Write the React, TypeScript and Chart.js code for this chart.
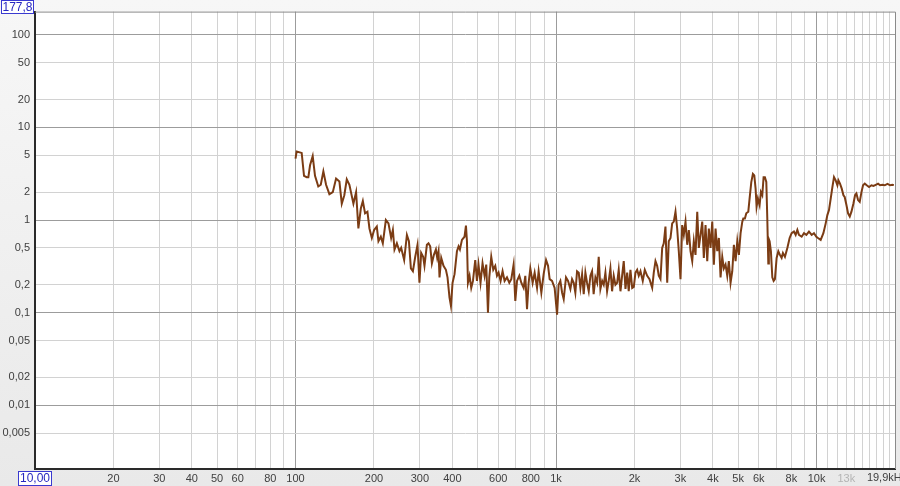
import React, { useEffect, useRef } from "react";
import { Chart, registerables } from "chart.js";

Chart.register(...registerables);

// ---- Data (frequency in Hz, distortion level) ----
const lowFreqHz = [
  100, 101, 105.6, 107.8, 110.4, 112, 113.7, 116.4, 118.8, 122.3,
  125, 127.9, 131, 134.9, 139, 143.1, 147.4, 150.5, 153.9, 157.3,
  161, 166.8, 170.8, 174.3, 178.1, 181.3, 184.9, 188.8, 192.2, 196.3,
  200.3, 205.1, 208.1, 212.5, 216.3, 222.2, 227.4, 232.8, 236.4, 239.8,
  244.9, 250.6, 254.4, 261.2, 267.6, 272.4, 277.2, 282.2, 288, 293.9,
  299, 303.6, 309, 312.6, 319.3, 323.9, 328.8, 333.8, 339.7, 345.8,
  349.8, 353.9, 357, 362.5, 369.8, 377.8, 383.2, 390, 395, 400.6,
  407.7, 416.5, 422.5, 427.6, 435.3, 445.4, 451, 455, 459, 465.6,
  472.6, 479.8, 489.6, 497, 504, 513, 522.2, 531.6, 539.6, 547.9,
  554.2, 564, 574.1, 584.4, 593.2, 601.8, 612.5, 623.4, 634.6, 648.2,
  661.5, 673.3, 687.2, 697.6, 708.2, 722.8, 735.6, 750.8, 762.1, 773.7,
  784.8, 796.6, 813.1, 827.6, 845.3, 857.3, 878.1, 896.1, 915.5, 931.8,
  945, 965.2, 987.6,
];
const lowLevel = [
  4.6, 5.5, 5.3, 3.0, 2.9, 2.9, 3.9, 4.9, 3.0, 2.3,
  2.4, 3.35, 2.4, 1.9, 2.0, 2.8, 2.6, 1.5, 1.85, 2.75,
  2.4, 1.5, 2.0, 0.81, 1.33, 1.6, 1.18, 1.23, 0.81, 0.64,
  0.78, 0.85, 0.59, 0.66, 0.56, 1.0, 0.92, 0.64, 0.78, 0.48,
  0.56, 0.46, 0.5, 0.37, 0.69, 0.59, 0.3, 0.28, 0.4, 0.54,
  0.21, 0.44, 0.4, 0.32, 0.54, 0.56, 0.52, 0.34, 0.42, 0.48,
  0.39, 0.46, 0.24, 0.39, 0.32, 0.29, 0.24, 0.145, 0.118, 0.21,
  0.26, 0.46, 0.52, 0.48, 0.61, 0.66, 0.87, 0.59, 0.21, 0.25,
  0.185, 0.22, 0.37, 0.22, 0.33, 0.21, 0.34, 0.25, 0.33, 0.1,
  0.24, 0.4, 0.29, 0.32, 0.25, 0.27, 0.22, 0.28, 0.22, 0.24,
  0.21, 0.23, 0.33, 0.134, 0.22, 0.25, 0.21, 0.185, 0.25, 0.109,
  0.21, 0.3, 0.21, 0.27, 0.185, 0.28, 0.164, 0.26, 0.37, 0.32,
  0.23, 0.22, 0.185,
];

const midFreqHz = [
  1009, 1023, 1039, 1055, 1070, 1092, 1112, 1135, 1152, 1169,
  1186, 1204, 1222, 1240, 1259, 1277, 1296, 1315, 1335, 1355,
  1375, 1394, 1416, 1438, 1458, 1480, 1503, 1524, 1547, 1570,
  1593, 1617, 1641, 1665, 1690, 1716, 1740, 1767, 1793, 1819,
  1847, 1875, 1901, 1930, 1960, 1988, 2018, 2048, 2077, 2109,
  2152, 2191, 2238, 2284, 2339, 2372, 2408, 2444, 2479, 2517,
  2555, 2591, 2630, 2671, 2708, 2750, 2791, 2831, 2874, 2917,
  2959, 3004, 3049, 3093, 3140, 3188, 3233, 3282, 3332, 3379,
  3430, 3483, 3532, 3586, 3640, 3692, 3748, 3805, 3859, 3918,
  3977, 4034, 4095, 4157, 4216, 4280, 4345, 4406, 4473, 4541,
  4605, 4676, 4747, 4815, 4888, 4962, 5033, 5109, 5187, 5233,
  5308, 5373, 5469, 5532, 5616, 5696, 5767, 5834, 5885, 5953,
  6043, 6113, 6189, 6261, 6333, 6413, 6469, 6527, 6560, 6603,
  6679, 6763, 6841, 6920, 7025, 7131, 7233, 7342, 7428, 7561,
  7723, 7881, 8022, 8187, 8312, 8438, 8557, 8765, 8946, 9138,
  9350, 9577, 9772, 9982,
];
const midLevel = [
  0.095, 0.2, 0.22, 0.164, 0.14, 0.24, 0.22, 0.18, 0.23, 0.21,
  0.164, 0.28, 0.27, 0.185, 0.26, 0.158, 0.27, 0.21, 0.17, 0.25,
  0.28, 0.158, 0.24, 0.21, 0.4, 0.18, 0.22, 0.2, 0.27, 0.17,
  0.22, 0.3, 0.17, 0.25, 0.2, 0.21, 0.29, 0.17, 0.25, 0.36,
  0.18, 0.27, 0.17, 0.29, 0.185, 0.19, 0.27, 0.29, 0.25, 0.28,
  0.22, 0.29, 0.25, 0.23, 0.185, 0.27, 0.36, 0.32, 0.25, 0.23,
  0.5, 0.56, 0.85, 0.21, 0.59, 0.64, 0.92, 0.96, 1.23, 0.81,
  0.46, 0.23, 0.88, 0.69, 0.96, 0.54, 0.78, 0.46, 0.36, 0.59,
  0.42, 1.23, 0.5, 0.69, 0.96, 0.39, 0.88, 0.36, 0.81, 0.5,
  0.96, 0.33, 0.81, 0.46, 0.64, 0.24, 0.4, 0.3, 0.33, 0.25,
  0.36, 0.21, 0.28, 0.54, 0.36, 0.59, 0.42, 0.72, 0.96, 1.04,
  1.04, 1.18, 1.23, 1.7, 2.57, 3.15, 3.03, 2.18, 1.39, 1.7,
  1.45, 2.0, 1.85, 2.9, 2.9, 2.57, 1.04, 0.34, 0.62, 0.59,
  0.46, 0.24, 0.22, 0.23, 0.39, 0.46, 0.42, 0.39, 0.44, 0.4,
  0.5, 0.64, 0.72, 0.75, 0.69, 0.78, 0.69, 0.66, 0.72, 0.69,
  0.75, 0.69, 0.72, 0.66,
];

const highFreqHz = [
  10125, 10370, 10620, 10840, 11000, 11160, 11330, 11500, 11665, 11840,
  12020, 12130, 12300, 12490, 12680, 12820, 13020, 13210, 13410, 13610,
  13850, 14050, 14220, 14430, 14640, 14870, 15080, 15310, 15580, 15900,
  16240, 16530, 16870, 17220, 17530, 17900, 18270, 18720, 19150, 19560,
  19800,
];
const highLevel = [
  0.64, 0.61, 0.72, 0.92, 1.13, 1.28, 1.7, 2.27, 2.9, 2.68,
  2.37, 2.68, 2.47, 2.18, 1.85, 1.77, 1.45, 1.18, 1.09, 1.23,
  1.51, 1.85, 1.93, 1.64, 1.57, 2.0, 2.37, 2.47, 2.37, 2.27,
  2.37, 2.33, 2.4, 2.47, 2.37, 2.4, 2.37, 2.45, 2.37, 2.4,
  2.38,
];

// ---- Axes ----
const X_MIN = 10;
const X_MAX = 20000;
const Y_MIN = 0.00205;
const Y_MAX = 177.8;

const xGridHz = [
  20, 30, 40, 50, 60, 70, 80, 90, 100,
  200, 300, 400, 500, 600, 700, 800, 900, 1000,
  2000, 3000, 4000, 5000, 6000, 7000, 8000, 9000, 10000,
  11000, 12000, 13000, 14000, 15000, 16000, 17000, 18000, 19000,
];
const xLabelHz = [20, 30, 40, 50, 60, 80, 100, 200, 300, 400, 600, 800, 1000, 2000, 3000, 4000, 5000, 6000, 8000, 10000, 13000];
const xLabelText = ["20", "30", "40", "50", "60", "80", "100", "200", "300", "400", "600", "800", "1k", "2k", "3k", "4k", "5k", "6k", "8k", "10k", "13k"];

const yGridValues = [0.005, 0.01, 0.02, 0.05, 0.1, 0.2, 0.5, 1, 2, 5, 10, 20, 50, 100];
const yLabelText = ["0,005", "0,01", "0,02", "0,05", "0,1", "0,2", "0,5", "1", "2", "5", "10", "20", "50", "100"];

const TOP_BOX_TEXT = "177,8";
const LEFT_BOX_TEXT = "10,00";
const RIGHT_END_TEXT = "19,9kHz";
const RIGHT_END_AT_HZ = 15600;

const FONT = "'Liberation Sans', Arial, sans-serif";

const isDecade = (v: number) => Math.abs(Math.log10(v) - Math.round(Math.log10(v))) < 1e-6;

export default function App() {
  const canvasRef = useRef<HTMLCanvasElement | null>(null);

  useEffect(() => {
    const canvas = canvasRef.current;
    if (!canvas) return;

    const freqs = [...lowFreqHz, ...midFreqHz, ...highFreqHz];
    const levels = [...lowLevel, ...midLevel, ...highLevel];
    const points = freqs.map((f, i) => ({ x: f, y: levels[i] }));

    const framePlugin = {
      id: "rewFrame",
      beforeDraw(chart: any) {
        const { ctx, width, height, chartArea } = chart;
        ctx.save();
        const g = ctx.createLinearGradient(0, 0, 0, height);
        g.addColorStop(0, "#f7f7f7");
        g.addColorStop(1, "#e9e9e9");
        ctx.fillStyle = g;
        ctx.fillRect(0, 0, width, height);
        ctx.fillStyle = "#ffffff";
        ctx.fillRect(chartArea.left, chartArea.top, chartArea.right - chartArea.left, chartArea.bottom - chartArea.top);
        ctx.restore();
      },
      afterDraw(chart: any) {
        const { ctx, chartArea } = chart;
        ctx.save();
        ctx.strokeStyle = "#8a8a8a";
        ctx.lineWidth = 1;
        ctx.beginPath();
        ctx.moveTo(chartArea.left, chartArea.top + 0.5);
        ctx.lineTo(chartArea.right + 0.5, chartArea.top + 0.5);
        ctx.lineTo(chartArea.right + 0.5, chartArea.bottom);
        ctx.stroke();

        const drawBox = (text: string, x: number, y: number, w: number, h: number) => {
          ctx.fillStyle = "#ffffff";
          ctx.fillRect(x, y, w, h);
          ctx.strokeStyle = "#3a3ad0";
          ctx.lineWidth = 1;
          ctx.strokeRect(x + 0.5, y + 0.5, w - 1, h - 1);
          ctx.font = `12px ${FONT}`;
          ctx.fillStyle = "#2828c0";
          ctx.textAlign = "center";
          ctx.textBaseline = "middle";
          ctx.fillText(text, x + w / 2, y + h / 2 + 0.5);
        };
        drawBox(TOP_BOX_TEXT, 1, 0, 33, 14);
        drawBox(LEFT_BOX_TEXT, 18, 471, 34, 15);

        const xs = chart.scales.x;
        ctx.font = `11px ${FONT}`;
        ctx.fillStyle = "#404040";
        ctx.textAlign = "left";
        ctx.textBaseline = "top";
        ctx.fillText(RIGHT_END_TEXT, xs.getPixelForValue(RIGHT_END_AT_HZ), chartArea.bottom + 3);
        ctx.restore();
      },
    };

    const chart = new Chart(canvas, {
      type: "line",
      data: {
        datasets: [
          {
            data: points,
            borderColor: "#7b3c14",
            borderWidth: 2,
            pointRadius: 0,
            fill: false,
            tension: 0,
          },
        ],
      },
      options: {
        responsive: false,
        animation: false,
        events: [],
        layout: { padding: { top: 7, right: 5, left: 0, bottom: 0 } },
        plugins: { legend: { display: false }, tooltip: { enabled: false } },
        scales: {
          x: {
            type: "logarithmic",
            min: X_MIN,
            max: X_MAX,
            afterBuildTicks: (scale: any) => {
              scale.ticks = xGridHz.map((v) => ({ value: v }));
            },
            afterFit: (scale: any) => {
              scale.height = 17;
            },
            ticks: {
              autoSkip: false,
              maxRotation: 0,
              minRotation: 0,
              padding: 3,
              font: { family: FONT, size: 11 },
              color: (c: any) => (c.tick && c.tick.value === 13000 ? "#b4b4b4" : "#404040"),
              callback: (value: any) => {
                const i = xLabelHz.indexOf(Number(value));
                return i >= 0 ? xLabelText[i] : "";
              },
            },
            grid: {
              drawTicks: false,
              color: (c: any) => (c.tick && isDecade(c.tick.value) ? "#9c9c9c" : "#d2d2d2"),
              lineWidth: 1,
            },
            border: { display: true, color: "#2a2a2a", width: 2 },
          },
          y: {
            type: "logarithmic",
            min: Y_MIN,
            max: Y_MAX,
            afterBuildTicks: (scale: any) => {
              scale.ticks = yGridValues.map((v) => ({ value: v }));
            },
            afterFit: (scale: any) => {
              scale.width = 35;
            },
            ticks: {
              autoSkip: false,
              padding: 5,
              font: { family: FONT, size: 11 },
              color: "#404040",
              callback: (value: any) => {
                const i = yGridValues.findIndex((v) => Math.abs(v - Number(value)) < v * 1e-6);
                return i >= 0 ? yLabelText[i] : "";
              },
            },
            grid: {
              drawTicks: false,
              color: (c: any) => (c.tick && isDecade(c.tick.value) ? "#9c9c9c" : "#d2d2d2"),
              lineWidth: 1,
            },
            border: { display: true, color: "#2a2a2a", width: 2 },
          },
        },
      },
      plugins: [framePlugin],
    } as any);

    return () => {
      chart.destroy();
    };
  }, []);

  return (
    <div style={{ position: "absolute", left: 0, top: 0, width: 900, height: 486 }}>
      <canvas ref={canvasRef} width={900} height={486} style={{ display: "block", width: 900, height: 486 }} />
    </div>
  );
}
